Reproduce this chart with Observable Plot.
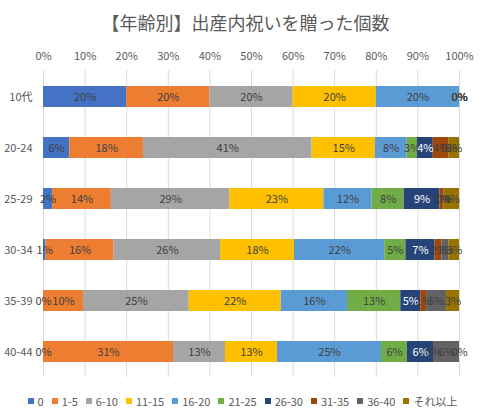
<!DOCTYPE html>
<html>
<head>
<meta charset="utf-8">
<script src="https://cdn.jsdelivr.net/npm/d3@7"></script>
<script src="https://cdn.jsdelivr.net/npm/@observablehq/plot@0.6"></script>
<style>
  body { margin: 0; background: #fff; font-family: "Noto Sans CJK JP", sans-serif; }
  #title { height: 44px; line-height: 44px; text-align: center; font-size: 18px; color: #595959; padding-left: 10px; }
  #legend { height: 28px; display: flex; justify-content: center; align-items: center; font-size: 11px; color: #595959; white-space: nowrap; padding-left: 4px; }
  #legend span.item { display: inline-flex; align-items: center; margin-right: 8px; }
  #legend span.item:last-child { margin-right: 0; }
  #legend span.sw { width: 6px; height: 6px; margin-right: 4px; display: inline-block; }
</style>
</head>
<body>
<div id="title">【年齢別】出産内祝いを贈った個数</div>
<div id="chart"></div>
<div id="legend"></div>
<script>
const ages = ["10代", "20-24", "25-29", "30-34", "35-39", "40-44"];
const bins = ["0", "1-5", "6-10", "11-15", "16-20", "21-25", "26-30", "31-35", "36-40", "それ以上"];
const colors = ["#4472C4", "#ED7D31", "#A5A5A5", "#FFC000", "#5B9BD5", "#70AD47", "#264478", "#9E480E", "#636363", "#997300"];

// share (%) per age group, same order as bins
const share10s = [20, 20, 20, 20, 20, 0, 0, 0, 0, 0];
const share2024 = [6.3, 17.7, 40.5, 15.2, 7.6, 2.5, 3.8, 3.8, 0, 2.5];
const share2529 = [2.2, 14.1, 28.5, 22.6, 11.6, 7.7, 8.6, 1.0, 0, 3.7];
const share3034 = [0.6, 16.4, 25.6, 17.8, 21.7, 5.1, 7.0, 1.7, 1.7, 2.5];
const share3539 = [0, 9.6, 25.4, 22.1, 15.9, 12.8, 4.8, 1.4, 4.8, 3.1];
const share4044 = [0, 31.25, 12.5, 12.5, 25, 6.25, 6.25, 0, 6.25, 0];

const rows = [share10s, share2024, share2529, share3034, share3539, share4044];
const data = [];
rows.forEach((r, i) => r.forEach((v, j) => data.push({age: ages[i], bin: bins[j], value: v})));

const stackOpts = {x: "value", y: "age", z: "bin", order: bins, offset: "normalize"};

const chart = Plot.plot({
  width: 481,
  height: 343,
  marginTop: 26,
  marginLeft: 43,
  marginRight: 22,
  marginBottom: 10,
  style: {fontFamily: "'Noto Sans CJK JP', sans-serif", fontSize: "11px", color: "#595959"},
  x: {domain: [0, 1], tickFormat: d3.format(".0%"), ticks: 10},
  y: {domain: ages, paddingInner: 0.59, paddingOuter: 0.295, label: null},
  color: {domain: bins, range: colors},
  marks: [
    Plot.gridX({ticks: 10, stroke: "#d9d9d9", strokeOpacity: 1}),
    Plot.axisX({anchor: "top", ticks: 10, tickSize: 0, tickPadding: 11, tickFormat: d3.format(".0%"), label: null}),
    Plot.axisY({tickSize: 0, tickPadding: 11, label: null}),
    Plot.barX(data, Plot.stackX({...stackOpts, fill: "bin"})),
    Plot.text(data, Plot.stackX({
      ...stackOpts,
      text: d => Math.round(d.value) + "%",
      fill: d => d.bin === "26-30" ? "#ffffff" : "#404040",
      fontSize: 11
    }))
  ]
});
document.getElementById("chart").append(chart);

// legend built from the same bins / colors
const legend = d3.select("#legend");
bins.forEach((b, i) => {
  const item = legend.append("span").attr("class", "item");
  item.append("span").attr("class", "sw").style("background", colors[i]);
  item.append("span").text(b);
});
</script>
</body>
</html>
